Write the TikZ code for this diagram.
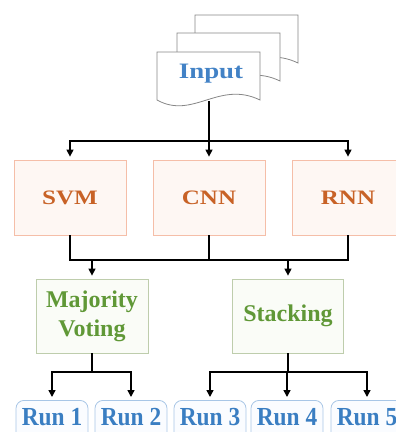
\documentclass[tikz,border=0pt]{standalone}
\usepackage{fontspec}
\setmainfont{Liberation Serif}
\newfontfamily\wideserif[FakeStretch=1.22]{Liberation Serif}
\newfontfamily\narrowserif[FakeStretch=0.9]{Liberation Serif}
\usetikzlibrary{arrows.meta}

\definecolor{sheetline}{RGB}{135,135,135}
\definecolor{inputtext}{RGB}{66,130,198}
\definecolor{modelline}{RGB}{245,190,168}
\definecolor{modelfill}{RGB}{254,247,243}
\definecolor{modeltext}{RGB}{200,98,38}
\definecolor{combline}{RGB}{190,205,172}
\definecolor{combfill}{RGB}{250,252,247}
\definecolor{combtext}{RGB}{96,152,55}
\definecolor{runline}{RGB}{168,198,230}
\definecolor{runfill}{RGB}{250,252,255}
\definecolor{runtext}{RGB}{58,126,194}

\tikzset{
  sheet/.style={draw=sheetline, fill=white, line width=0.8pt},
  pics/docsheet/.style={code={
    \draw[sheet] (0,0) -- (103,0) -- (103,48)
      .. controls (61.8,28) and (36.05,68) .. (0,48) -- cycle;}},
  model/.style={draw=modelline, fill=modelfill, line width=0.8pt,
    minimum width=112pt, minimum height=75pt, text=modeltext,
    font=\wideserif\bfseries\fontsize{20.5}{22}\selectfont},
  combiner/.style={draw=combline, fill=combfill, line width=0.8pt,
    minimum width=112pt, minimum height=74pt, text=combtext, align=center,
    font=\bfseries\fontsize{24}{29}\selectfont},
  runbox/.style={draw=runline, fill=runfill, line width=0.8pt,
    rounded corners=8pt, minimum width=72pt, anchor=north,
    text height=18pt, text depth=12pt, inner ysep=7pt, text=runtext,
    font=\narrowserif\bfseries\fontsize{26}{28}\selectfont},
  link/.style={line width=1.4pt, black},
  arr/.style={link, -{Triangle[length=7pt,width=7pt]}, shorten >=3pt}
}

\begin{document}
\begin{tikzpicture}[x=1pt,y=-1pt]
  \useasboundingbox (0,0) rectangle (396,432);
  \clip (0,0) rectangle (396,432);

  % stack of input documents
  \pic at (195,15) {docsheet};
  \pic at (177,33) {docsheet};
  \pic at (157,52) {docsheet};
  \node[font=\wideserif\bfseries\fontsize{22}{24}\selectfont, text=inputtext]
    (input) at (211,74) {Input};
  \coordinate (docbot) at (209,101);

  % base classifiers
  \node[model] (svm) at (70,197.5) {SVM};
  \node[model] (cnn) at (209,197.5) {CNN};
  \node[model] (rnn) at (348,197.5) {RNN};

  % ensemble methods
  \node[combiner] (mv) at (92,316) {Majority\\Voting};
  \node[combiner, minimum width=111pt] (st) at (288,316) {Stacking};

  % runs
  \node[runbox] (run1) at (52,400)  {Run 1};
  \node[runbox] (run2) at (131,400) {Run 2};
  \node[runbox] (run3) at (210,400) {Run 3};
  \node[runbox] (run4) at (287,400) {Run 4};
  \node[runbox] (run5) at (367,400) {Run 5};

  % bus junctions
  \coordinate (bus1) at (209,141);
  \coordinate (bus2) at (209,260);
  \coordinate (bus3) at (92,372);
  \coordinate (bus4) at (288,372);

  % connectors
  \draw[link] (docbot) -- (bus1);
  \foreach \n in {svm,cnn,rnn} \draw[arr] (bus1) -| (\n);

  \draw[link] (svm) |- (bus2) -| (rnn);
  \draw[link] (cnn) -- (bus2);
  \draw[arr] (bus2) -| (mv);
  \draw[arr] (bus2) -| (st);

  \draw[link] (mv) -- (bus3);
  \draw[arr] (bus3) -| (run1);
  \draw[arr] (bus3) -| (run2);

  \draw[link] (st) -- (bus4);
  \foreach \n in {run3,run4,run5} \draw[arr] (bus4) -| (\n);
\end{tikzpicture}
\end{document}
